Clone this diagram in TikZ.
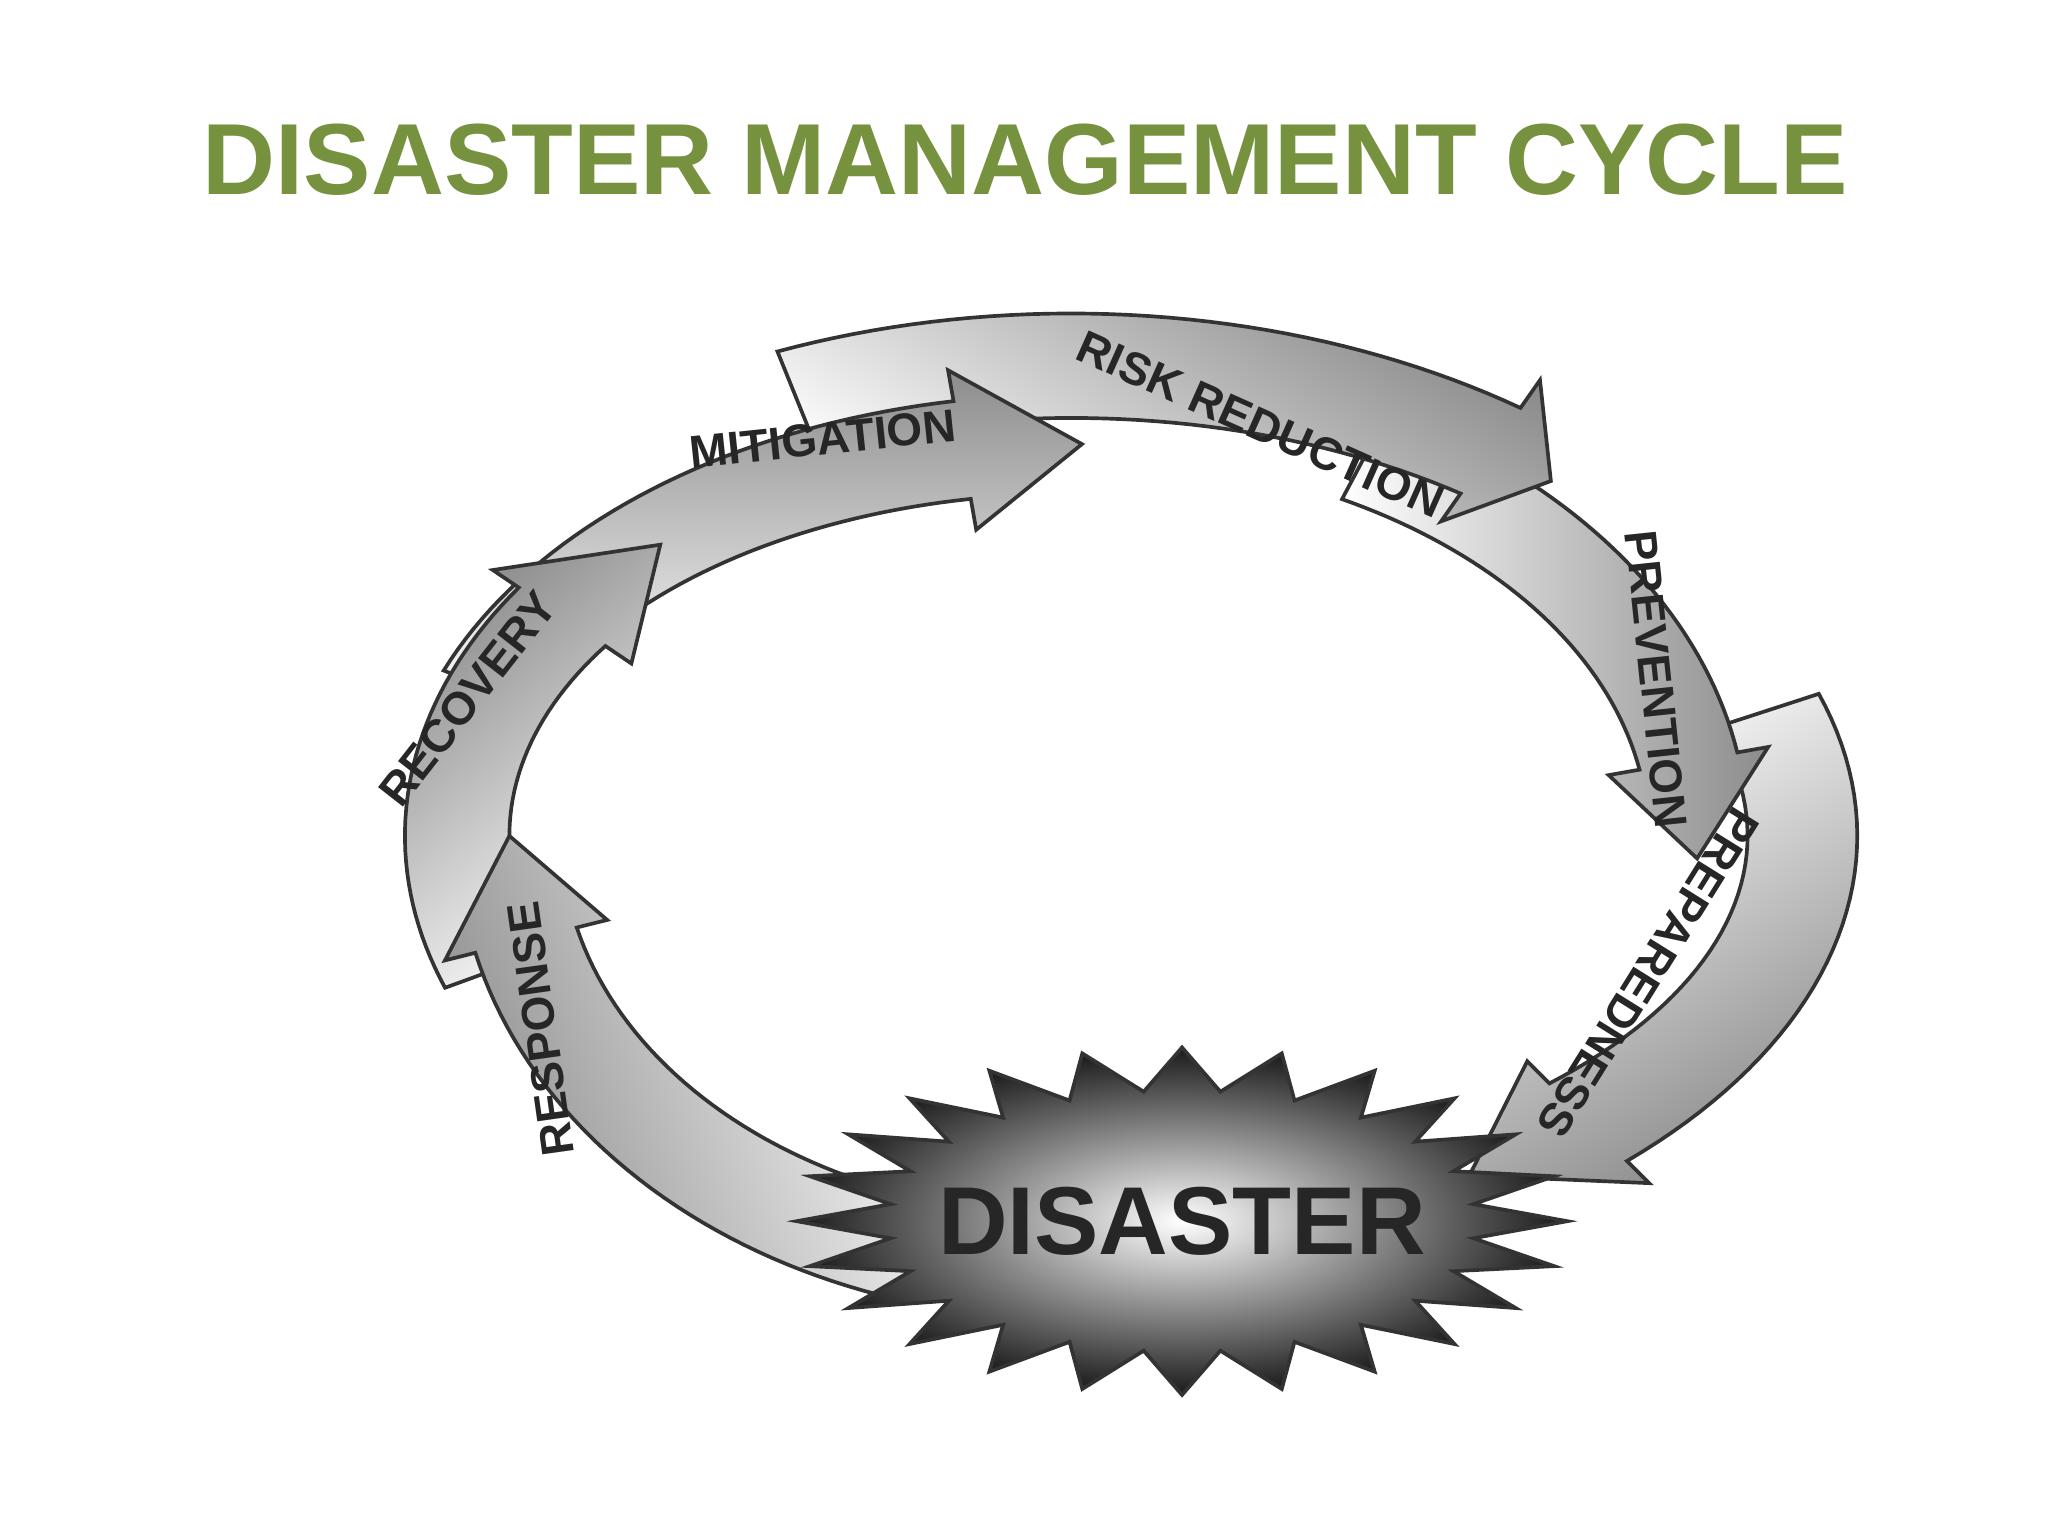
\documentclass[tikz,border=0pt]{standalone}
\usepackage{fontspec}
\setmainfont{Liberation Sans}
\definecolor{titlegreen}{RGB}{118,146,62}
\tikzset{arrowband/.style={draw=black!80,line width=0.8pt,left color=black!45,right color=white},
  arrowlabel/.style={font=\fontsize{10}{10}\selectfont\bfseries,text=black!85}}
\def\cx{820}\def\cy{536}
% #1 rx #2 ry #3 halfwidth #4 head halfwidth #5 t-tail #6 t-headbase #7 t-tip #8 shading angle
\newcommand\cycarrow[8]{%
  \path[arrowband,shading angle=#8]
    plot[domain=#5:#6,samples=40] ({\cx+(#1+#3)*cos(\x)},{\cy+(#2+#3)*sin(\x)})
    -- ({\cx+(#1+#4)*cos(#6)},{\cy+(#2+#4)*sin(#6)})
    -- ({\cx+#1*cos(#7)},{\cy+#2*sin(#7)})
    -- ({\cx+(#1-#4)*cos(#6)},{\cy+(#2-#4)*sin(#6)})
    -- plot[domain=#6:#5,samples=40] ({\cx+(#1-#3)*cos(\x)},{\cy+(#2-#3)*sin(\x)})
    -- cycle;
}
\begin{document}
\begin{tikzpicture}[x=0.01cm,y=0.01cm]
\path[fill=white,use as bounding box] (0,0) rectangle (1568,1176);
\node[font=\fontsize{22}{22}\selectfont\bfseries,text=titlegreen] (title) at (785,1054) {DISASTER MANAGEMENT CYCLE};
% arrows (back to front)
\cycarrow{560}{310}{42}{66}{18}{-45}{-57}{210}
\cycarrow{480}{330}{38}{62}{62}{10}{-3}{-90}
\cycarrow{560}{360}{40}{66}{112}{55}{49}{-30}
\cycarrow{480}{300}{38}{62}{158}{100}{89}{0}
\cycarrow{470}{300}{40}{64}{-160}{-214}{-228}{40}
\cycarrow{430}{330}{40}{64}{-105}{-166}{-180}{110}
% labels
\node[arrowlabel,rotate=-24] (labrisk) at (965,851) {RISK REDUCTION};
\node[arrowlabel,rotate=-84] (labprev) at (1268,656) {PREVENTION};
\node[arrowlabel,rotate=-122] (labprep) at (1262,431) {PREPAREDNESS};
\node[arrowlabel,rotate=6] (labmiti) at (630,840) {MITIGATION};
\node[arrowlabel,rotate=98] (labresp) at (414,388) {RESPONSE};
\node[arrowlabel,rotate=52] (labreco) at (358,641) {RECOVERY};
% disaster star
\path[draw=black!80,line width=0.8pt,inner color=white,outer color=black!90]
  plot[domain=0:47,samples=48] ({905+(mod(\x,2)==0 ? 295 : 225)*cos(\x*7.5)},{241+(mod(\x,2)==0 ? 133 : 100)*sin(\x*7.5)}) -- cycle;
\node[font=\fontsize{21}{21}\selectfont\bfseries,text=black!85] (disaster) at (905,241) {DISASTER};
\end{tikzpicture}
\end{document}
